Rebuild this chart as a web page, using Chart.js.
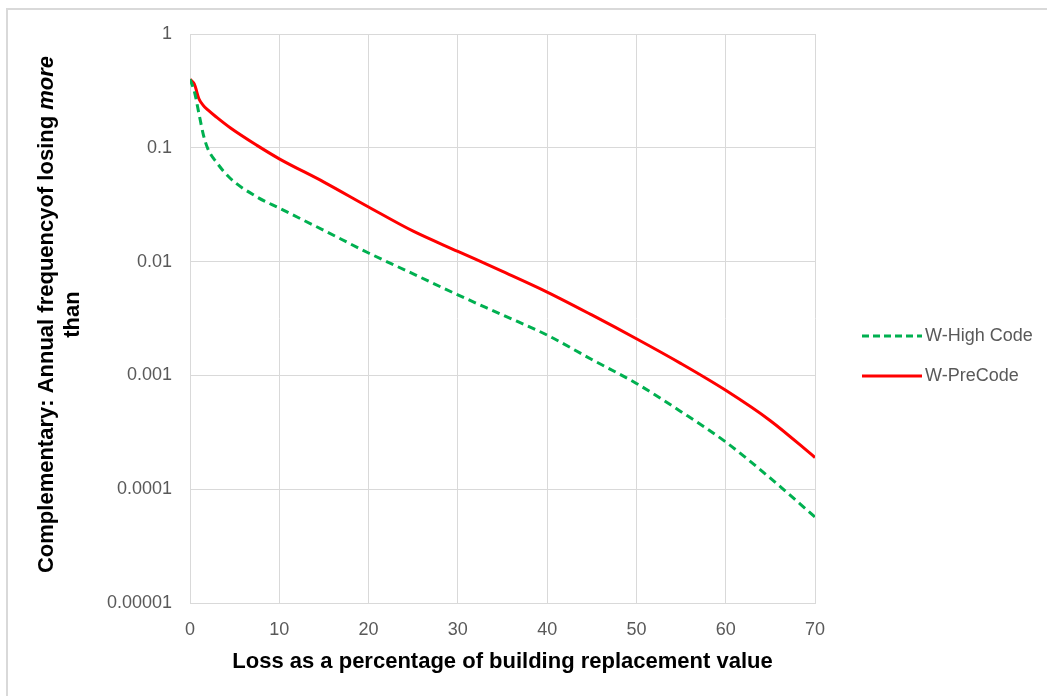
<!DOCTYPE html>
<html>
<head>
<meta charset="utf-8">
<script src="https://cdn.jsdelivr.net/npm/chart.js@4.4.1/dist/chart.umd.min.js"></script>
<style>
  html, body { margin: 0; padding: 0; background: #fff; }
  #wrap { width: 1047px; height: 696px; }
</style>
</head>
<body>
<div id="wrap"><canvas id="chart" width="1047" height="696"></canvas></div>
<script>
// loss as % of building replacement value
const lossPct = [0, 0.5, 1, 1.5, 2, 3, 4.5, 7.5, 10, 15, 20, 25, 30, 35, 40, 45, 50, 55, 60, 65, 70];
// annual frequency of exceeding loss
const highCode = [0.4, 0.31, 0.2, 0.13, 0.098, 0.074, 0.054, 0.037, 0.0295, 0.0188, 0.0119, 0.0078, 0.0051, 0.0034, 0.00226, 0.00138, 0.00085, 0.00048, 0.00026, 0.000125, 0.000057];
const preCode = [0.4, 0.36, 0.27, 0.235, 0.215, 0.185, 0.15, 0.105, 0.08, 0.05, 0.0302, 0.0185, 0.0123, 0.0082, 0.0054, 0.0034, 0.0021, 0.00127, 0.00074, 0.0004, 0.00019];
const yTicks = [1, 0.1, 0.01, 0.001, 0.0001, 0.00001];
const xTicks = [0, 10, 20, 30, 40, 50, 60, 70];
const seriesNames = ["W-High Code", "W-PreCode"];

const GREEN = "#00b050";
const RED = "#ff0000";
const GREY_TXT = "#595959";
const GRID = "#d9d9d9";
const FONT = "'Liberation Sans', Arial, sans-serif";

const pts = (ys) => lossPct.map((x, i) => ({ x: x, y: ys[i] }));

// outer frame, rotated y title with italic word, legend
const extras = {
  id: "extras",
  beforeDraw(chart) {
    const c = chart.ctx;
    c.save();
    c.strokeStyle = GRID;
    c.lineWidth = 2;
    c.beginPath();
    c.moveTo(7, 700);
    c.lineTo(7, 9);
    c.lineTo(1050, 9);
    c.stroke();
    c.restore();
  },
  afterDraw(chart) {
    const c = chart.ctx;
    const area = chart.chartArea;
    const cy = (area.top + area.bottom) / 2 - 4;
    // y title (two lines, "more" italic)
    c.save();
    c.fillStyle = "#000";
    c.textBaseline = "middle";
    const parts = [
      ["Complementary: Annual frequencyof losing ", "bold 22px " + FONT],
      ["more", "italic bold 22px " + FONT]
    ];
    let total = 0;
    parts.forEach(p => { c.font = p[1]; total += c.measureText(p[0]).width; });
    c.translate(47, cy);
    c.rotate(-Math.PI / 2);
    let x = -total / 2;
    c.textAlign = "left";
    parts.forEach(p => { c.font = p[1]; c.fillText(p[0], x, 0); x += c.measureText(p[0]).width; });
    c.font = "bold 22px " + FONT;
    c.textAlign = "center";
    c.fillText("than", 0, 26);
    c.restore();

    // legend
    const items = [
      { label: seriesNames[0], color: GREEN, dash: [7, 4], y: 336 },
      { label: seriesNames[1], color: RED, dash: [], y: 376 }
    ];
    c.save();
    items.forEach(it => {
      c.strokeStyle = it.color;
      c.lineWidth = 3;
      c.setLineDash(it.dash);
      c.beginPath();
      c.moveTo(862, it.y);
      c.lineTo(922, it.y);
      c.stroke();
      c.setLineDash([]);
      c.fillStyle = GREY_TXT;
      c.font = "18px " + FONT;
      c.textBaseline = "middle";
      c.textAlign = "left";
      c.fillText(it.label, 925, it.y);
    });
    c.restore();
  }
};

new Chart(document.getElementById("chart"), {
  type: "line",
  data: {
    datasets: [
      {
        label: seriesNames[0],
        data: pts(highCode),
        borderColor: GREEN,
        borderWidth: 3,
        borderDash: [8, 5],
        pointRadius: 0,
        fill: false,
        cubicInterpolationMode: "monotone"
      },
      {
        label: seriesNames[1],
        data: pts(preCode),
        borderColor: RED,
        borderWidth: 3,
        pointRadius: 0,
        fill: false,
        cubicInterpolationMode: "monotone"
      }
    ]
  },
  options: {
    responsive: false,
    animation: false,
    layout: { padding: { left: 0, right: 232, top: 34, bottom: 0 } },
    plugins: { legend: { display: false }, tooltip: { enabled: false } },
    scales: {
      x: {
        type: "linear",
        min: 0,
        max: 70,
        afterBuildTicks: (s) => { s.ticks = xTicks.map(v => ({ value: v })); },
        afterFit: (s) => { s.height = 93; },
        grid: { color: GRID, drawTicks: false },
        border: { color: GRID },
        ticks: { color: GREY_TXT, font: { family: FONT, size: 18 }, padding: 16, maxRotation: 0 },
        title: {
          display: true,
          text: "Loss as a percentage of building replacement value",
          color: "#000",
          font: { family: FONT, size: 22, weight: "bold" },
          padding: { top: 0, bottom: 21 }
        }
      },
      y: {
        type: "logarithmic",
        min: 0.00001,
        max: 1,
        afterBuildTicks: (s) => { s.ticks = yTicks.map(v => ({ value: v })); },
        afterFit: (s) => { s.width = 190; },
        grid: { color: GRID, drawTicks: false },
        border: { color: GRID },
        ticks: {
          color: GREY_TXT,
          font: { family: FONT, size: 18 },
          padding: 18,
          callback: (v) => String(v)
        }
      }
    }
  },
  plugins: [extras]
});
</script>
</body>
</html>
